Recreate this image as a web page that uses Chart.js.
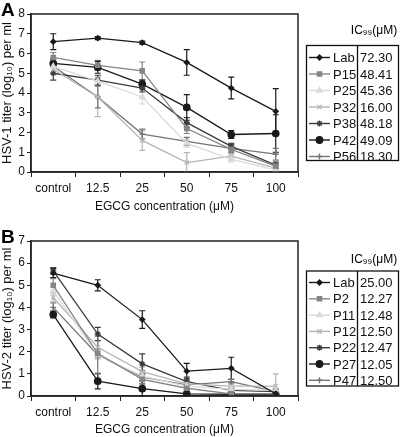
<!DOCTYPE html>
<html>
<head>
<meta charset="utf-8">
<script src="https://cdn.jsdelivr.net/npm/chart.js@4"></script>
<style>
body { margin: 0; background: #fff; }
#wrap { position: relative; width: 400px; height: 437px; }
#chartA { position: absolute; left: 0; top: 0; }
#chartB { position: absolute; left: 0; top: 220px; }
</style>
</head>
<body>
<div id="wrap">
<canvas id="chartA" width="400" height="220"></canvas>
<canvas id="chartB" width="400" height="217"></canvas>
</div>
<script>
const doses = ["control", "12.5", "25", "50", "75", "100"];

// panel A - HSV-1
const namesA = ["Lab", "P15", "P25", "P32", "P38", "P42", "P56"];
const ic99A = ["72.30", "48.41", "45.36", "16.00", "48.18", "49.09", "18.30"];
const labA = [6.6, 6.78, 6.55, 5.55, 4.25, 3.07];
const p15A = [5.8, 5.4, 5.12, 2.2, 1.15, 0.3];
const p25A = [5.35, 4.6, 3.8, 1.45, 0.65, 0.1];
const p32A = [5.2, 3.8, 1.6, 0.48, 0.8, 0.2];
const p38A = [5.0, 4.65, 4.25, 2.5, 1.3, 0.35];
const p42A = [5.5, 5.3, 4.45, 3.27, 1.9, 1.95];
const p56A = [5.35, 3.8, 1.92, 1.55, 1.2, 0.9];
const errA = [
    [0.4, 0.08, 0.08, 0.65, 0.55, 1.15],
    [0.25, 0.25, 0.45, 0.25, 0.2, 0.15],
    [0.2, 0.2, 0.35, 0.2, 0.15, 0.1],
    [0.2, 1.0, 0.5, 0.5, 0.2, 0.15],
    [0.35, 0.25, 0.2, 0.25, 0.15, 0.15],
    [0.2, 0.3, 0.2, 0.65, 0.2, 0.95],
    [0.4, 0.55, 0.25, 0.2, 0.2, 0.3]
];

// panel B - HSV-2
const namesB = ["Lab", "P2", "P11", "P12", "P22", "P27", "P47"];
const ic99B = ["25.00", "12.27", "12.48", "12.50", "12.47", "12.05", "12.50"];
const labB = [5.55, 5.0, 3.45, 1.12, 1.25, 0.1];
const p2B = [5.0, 1.92, 0.75, 0.35, 0.1, 0.1];
const p11B = [4.75, 1.85, 0.9, 0.45, 0.3, 0.25];
const p12B = [4.45, 2.2, 1.1, 0.55, 0.45, 0.45];
const p22B = [5.65, 2.8, 1.45, 0.65, 0.25, 0.2];
const p27B = [3.68, 0.67, 0.33, 0.1, 0.08, 0.08];
const p47B = [4.0, 1.85, 0.85, 0.5, 0.65, 0.2];
const errB = [
    [0.2, 0.25, 0.4, 0.35, 0.5, 0.1],
    [0.3, 0.2, 0.2, 0.1, 0.05, 0.05],
    [0.2, 0.2, 0.2, 0.1, 0.1, 0.1],
    [0.2, 0.3, 0.2, 0.15, 0.15, 0.55],
    [0.15, 0.3, 0.45, 0.2, 0.1, 0.1],
    [0.15, 0.35, 0.35, 0.1, 0.05, 0.05],
    [0.2, 0.85, 0.3, 0.2, 0.1, 0.1]
];

// same look for both panels, row by row
const colors = ["#1a1a1a", "#858585", "#dadada", "#b5b5b5", "#3c3c3c", "#1a1a1a", "#757575"];
const markers = ["rectRot", "rect", "triangle", "crossRot", "star", "circle", "cross"];
const radii = [2.5, 3, 3, 3, 3, 3.2, 3];

Chart.defaults.font.family = "'Liberation Sans', Arial, sans-serif";
Chart.defaults.font.size = 12;
Chart.defaults.color = "#111";

const errorBars = {
    id: "errorBars",
    beforeDatasetsDraw(chart) {
        const ctx = chart.ctx;
        const y = chart.scales.y;
        chart.data.datasets.forEach((ds, i) => {
            const meta = chart.getDatasetMeta(i);
            ctx.save();
            ctx.strokeStyle = ds.borderColor;
            ctx.lineWidth = 1.2;
            meta.data.forEach((pt, j) => {
                const e = ds.errors[j];
                const top = y.getPixelForValue(ds.data[j] + e);
                const bot = y.getPixelForValue(Math.max(0, ds.data[j] - e));
                ctx.beginPath();
                ctx.moveTo(pt.x, top); ctx.lineTo(pt.x, bot);
                ctx.moveTo(pt.x - 3, top); ctx.lineTo(pt.x + 3, top);
                ctx.moveTo(pt.x - 3, bot); ctx.lineTo(pt.x + 3, bot);
                ctx.stroke();
            });
            ctx.restore();
        });
    }
};

const frameAndLegend = {
    id: "frameAndLegend",
    afterDraw(chart, args, o) {
        const ctx = chart.ctx;
        const a = chart.chartArea;
        ctx.save();
        // box round the plot
        ctx.strokeStyle = "#222";
        ctx.lineWidth = 1.5;
        ctx.strokeRect(a.left, a.top, a.right - a.left, a.bottom - a.top);

        // panel letter
        ctx.fillStyle = "#000";
        ctx.font = "bold 19px 'Liberation Sans', Arial, sans-serif";
        ctx.textBaseline = "alphabetic";
        ctx.fillText(o.letter, 1, o.letterY);

        // IC99 table
        ctx.font = "12px 'Liberation Sans', Arial, sans-serif";
        ctx.textAlign = "center";
        ctx.fillText("IC\u2089\u2089(\u03BCM)", 374, o.headerY);
        ctx.lineWidth = 1.3;
        ctx.strokeStyle = "#111";
        ctx.strokeRect(306.5, o.boxTop, 92, o.boxBottom - o.boxTop);
        ctx.beginPath();
        ctx.moveTo(357.5, o.boxTop);
        ctx.lineTo(357.5, o.boxBottom);
        ctx.stroke();

        ctx.font = "13px 'Liberation Sans', Arial, sans-serif";
        ctx.textBaseline = "middle";
        chart.data.datasets.forEach((ds, i) => {
            const ry = o.firstRow + i * o.rowGap;
            ctx.strokeStyle = ds.borderColor;
            ctx.fillStyle = ds.borderColor;
            ctx.lineWidth = 1.4;
            ctx.beginPath();
            ctx.moveTo(309, ry);
            ctx.lineTo(330, ry);
            ctx.stroke();
            Chart.helpers.drawPoint(ctx, {
                pointStyle: ds.pointStyle,
                radius: ds.pointRadius,
                rotation: 0,
                borderWidth: 1.3
            }, 319.5, ry);
            ctx.fillStyle = "#111";
            ctx.textAlign = "left";
            ctx.fillText(ds.label, 333, ry + 1);
            ctx.fillText(o.values[i], 360, ry + 1);
        });
        ctx.restore();
    }
};

const makeChart = (id, names, series, errors, yMax, yTitle, xHeight, padTop, titlePad, legendOpts) => {
    const datasets = series.map((values, i) => ({
        label: names[i],
        data: values,
        errors: errors[i],
        borderColor: colors[i],
        backgroundColor: colors[i],
        borderWidth: 1.3,
        pointStyle: markers[i],
        pointRadius: radii[i],
        pointBorderWidth: 1.3,
        tension: 0
    }));

    return new Chart(document.getElementById(id).getContext("2d"), {
        type: "line",
        data: { labels: doses, datasets: datasets },
        options: {
            responsive: false,
            animation: false,
            layout: { padding: { top: padTop, right: 102, left: 0, bottom: 0 } },
            plugins: {
                legend: { display: false },
                tooltip: { enabled: false },
                frameAndLegend: legendOpts
            },
            scales: {
                x: {
                    offset: true,
                    grid: { offset: true, drawOnChartArea: false, tickLength: 5, color: "#222" },
                    border: { color: "#222", width: 1.5 },
                    ticks: { padding: 4, maxRotation: 0 },
                    title: { display: true, text: "EGCG concentration (\u03BCM)", padding: { top: 0, bottom: titlePad } },
                    afterFit: (scale) => { scale.height = xHeight; }
                },
                y: {
                    min: 0,
                    max: yMax,
                    ticks: { stepSize: 1, padding: 2 },
                    grid: { drawOnChartArea: false, tickLength: 4, color: "#222" },
                    border: { color: "#222", width: 1.5 },
                    title: { display: true, text: yTitle, font: { size: 13 }, padding: { top: 0, bottom: 0 } },
                    afterFit: (scale) => { scale.width = 31; }
                }
            }
        },
        plugins: [errorBars, frameAndLegend]
    });
};

makeChart("chartA", namesA, [labA, p15A, p25A, p32A, p38A, p42A, p56A], errA, 8,
    "HSV-1 titer (log\u2081\u2080) per ml", 48, 14, 6,
    { letter: "A", letterY: 16, values: ic99A, headerY: 34, boxTop: 45.5, boxBottom: 160.5, firstRow: 57.5, rowGap: 16.5 });

makeChart("chartB", namesB, [labB, p2B, p11B, p12B, p22B, p27B, p47B], errB, 7,
    "HSV-2 titer (log\u2081\u2080) per ml", 41, 21, 0,
    { letter: "B", letterY: 23, values: ic99B, headerY: 43, boxTop: 51, boxBottom: 166, firstRow: 62.5, rowGap: 16.3 });
</script>
</body>
</html>
